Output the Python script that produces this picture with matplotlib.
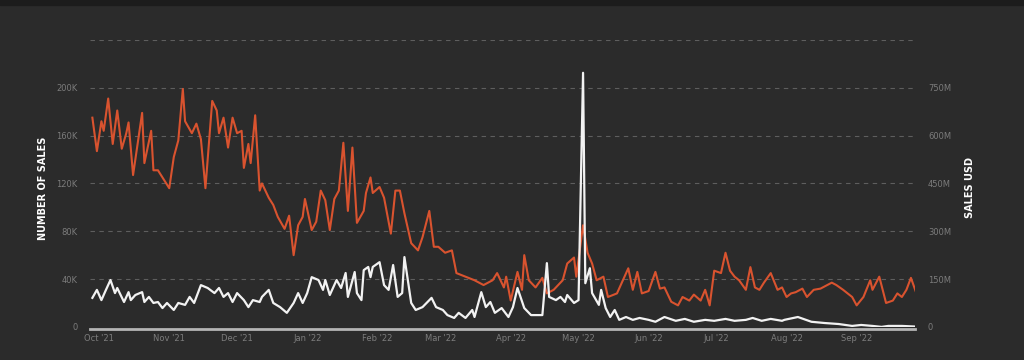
import numpy as np
import matplotlib
matplotlib.use("Agg")
import matplotlib.pyplot as plt
import matplotlib.dates as mdates
from matplotlib.ticker import FixedLocator, FuncFormatter

# days counted from 1 Oct 2021
sales_days = [-3, -1, 1, 2, 4, 6, 8, 10, 12, 13, 15, 19, 20, 23, 24, 26, 28, 31, 33, 35,
              37, 38, 41, 43, 45, 47, 50, 52, 53, 55, 57, 59, 61, 63, 64, 66, 67, 69, 71, 72,
              75, 77, 79, 82, 84, 86, 88, 90, 91, 94, 96, 98, 100, 102, 104, 106, 108, 110, 112, 114,
              117, 118, 120, 121, 124, 126, 129, 131, 133, 135, 138, 141, 143, 146, 148, 150, 153, 156, 158, 162,
              166, 170, 174, 176, 179, 180, 182, 185, 187, 188, 190, 193, 196, 198, 201, 205, 207, 210, 211, 214,
              216, 218, 220, 223, 225, 229, 234, 236, 238, 240, 243, 246, 248, 250, 253, 256, 258, 261, 263, 266,
              268, 270, 272, 275, 277, 279, 281, 283, 286, 288, 290, 292, 294, 297, 300, 302, 304, 306, 308, 311,
              313, 316, 319, 324, 326, 329, 333, 335, 338, 341, 342, 345, 348, 351, 353, 355, 357, 359, 362]
num_sales = [175, 147, 172, 164, 191, 153, 181, 149, 162, 171, 127, 179, 137, 164, 131, 131, 125, 116, 142, 156,
             199, 172, 162, 170, 157, 116, 189, 181, 162, 175, 150, 175, 162, 164, 133, 153, 137, 177, 114, 120,
             108, 102, 92, 82, 93, 60, 85, 92, 107, 81, 88, 114, 106, 81, 107, 114, 154, 97, 150, 87,
             97, 112, 125, 112, 117, 108, 78, 114, 114, 95, 70, 64, 75, 97, 67, 67, 62, 64, 45, 42,
             39, 35, 39, 45, 33, 42, 22, 46, 31, 60, 39, 33, 41, 28, 31, 39, 53, 58, 42, 85,
             62, 53, 39, 42, 25, 28, 49, 31, 46, 28, 30, 46, 32, 33, 21, 18, 25, 22, 27, 22,
             31, 18, 47, 45, 62, 47, 42, 39, 31, 50, 33, 31, 37, 45, 31, 33, 25, 28, 29, 32,
             25, 31, 32, 37, 35, 31, 25, 18, 25, 39, 31, 42, 20, 22, 28, 25, 31, 41, 25]

usd_days = [-3, -1, 1, 3, 5, 7, 8, 11, 13, 14, 16, 19, 20, 22, 24, 26, 28, 30, 33, 35,
            38, 40, 42, 45, 48, 51, 53, 55, 57, 59, 61, 64, 66, 68, 71, 72, 75, 77, 80, 83,
            86, 88, 90, 92, 94, 97, 99, 100, 102, 105, 107, 109, 110, 113, 114, 116, 117, 119, 120, 121,
            124, 126, 128, 130, 132, 134, 135, 138, 140, 143, 147, 149, 152, 154, 157, 159, 162, 165, 166, 169,
            171, 173, 175, 178, 181, 183, 185, 188, 191, 194, 196, 198, 199, 202, 204, 206, 207, 210, 212, 214,
            215, 217, 218, 221, 222, 224, 226, 228, 230, 233, 236, 239, 243, 246, 250, 255, 259, 263, 268, 272,
            277, 281, 286, 289, 293, 297, 302, 303, 309, 315, 321, 327, 333, 337, 342, 346, 349, 355, 361]
sales_usd = [91, 116, 84, 116, 147, 106, 122, 78, 109, 84, 100, 109, 78, 94, 75, 78, 59, 75, 53, 75,
             69, 94, 75, 131, 122, 106, 122, 94, 106, 78, 106, 84, 62, 84, 78, 94, 116, 75, 62, 44,
             75, 106, 75, 106, 156, 147, 116, 147, 100, 147, 122, 169, 94, 172, 106, 84, 178, 188, 156, 188,
             203, 131, 116, 194, 94, 106, 219, 75, 53, 62, 91, 62, 53, 37, 28, 44, 28, 53, 31, 109,
             62, 78, 44, 59, 31, 62, 122, 59, 37, 37, 37, 200, 94, 84, 94, 78, 100, 75, 84, 797,
             137, 184, 106, 69, 116, 59, 31, 53, 22, 31, 22, 28, 22, 16, 31, 19, 25, 16, 22, 19,
             25, 19, 22, 28, 19, 25, 19, 22, 31, 16, 12, 9, 3, 6, 3, 0, 3, 3, 1]

start = np.datetime64("2021-10-01")
sales_dates = start + np.array(sales_days).astype("timedelta64[D]")
usd_dates = start + np.array(usd_days).astype("timedelta64[D]")

bg = "#2b2b2b"
tick_col = "#7c7c7c"

fig = plt.figure(figsize=(10.24, 3.6), dpi=100, facecolor=bg)
ax = fig.add_axes([0.088, 0.092, 0.806, 0.797], facecolor=bg)
ax2 = ax.twinx()

ax.plot(sales_dates, np.array(num_sales) * 1000, color="#d9532f", lw=1.5)
ax2.plot(usd_dates, np.array(sales_usd) * 1e6, color="#f2f2f2", lw=1.6)

ax.set_ylim(0, 240000)
ax2.set_ylim(0, 900e6)
ax.set_xlim(start - np.timedelta64(4, "D"), start + np.timedelta64(361, "D"))

ax.yaxis.set_major_locator(FixedLocator([0, 40000, 80000, 120000, 160000, 200000, 240000]))
ax2.yaxis.set_major_locator(FixedLocator([0, 150e6, 300e6, 450e6, 600e6, 750e6, 900e6]))
ax.yaxis.set_major_formatter(FuncFormatter(
    lambda v, p: "0" if v == 0 else ("" if v > 200000 else f"{int(v / 1000)}K")))
ax2.yaxis.set_major_formatter(FuncFormatter(
    lambda v, p: "0" if v == 0 else ("" if v > 750e6 else f"{int(v / 1e6)}M")))

ax.xaxis.set_major_locator(mdates.MonthLocator())
ax.xaxis.set_major_formatter(mdates.DateFormatter("%b '%y"))

for a in (ax, ax2):
    a.tick_params(axis="both", length=0, colors=tick_col, labelsize=6)
    for s in a.spines.values():
        s.set_visible(False)
ax.tick_params(axis="y", pad=9)
ax2.tick_params(axis="y", pad=9)
ax.tick_params(axis="x", pad=5)

# dashed grid, solid base line
for v in [40000, 80000, 120000, 160000, 200000, 240000]:
    ax.axhline(v, color="#5e5e5e", lw=0.8, ls=(0, (4, 4)), zorder=0)
ax.axhline(-1500, color="#b5b5b5", lw=2, clip_on=False)

fig.text(0.042, 0.478, "NUMBER OF SALES", rotation=90, color="white",
         fontsize=7, fontweight="bold", ha="center", va="center")
fig.text(0.947, 0.478, "SALES USD", rotation=90, color="white",
         fontsize=7, fontweight="bold", ha="center", va="center")

fig.patches.append(plt.Rectangle((0, 0.985), 1, 0.015, transform=fig.transFigure,
                                 color="#1c1c1c", zorder=-1))

fig.savefig("out.png", dpi=100, facecolor=bg)
